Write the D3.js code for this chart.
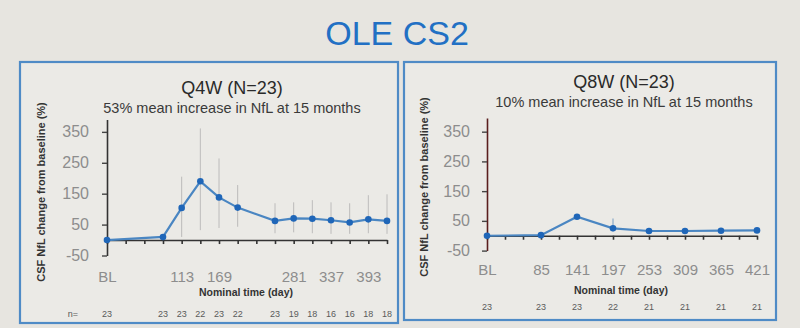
<!DOCTYPE html>
<html><head><meta charset="utf-8">
<script src="https://cdn.jsdelivr.net/npm/d3@7"></script>
<style>
html,body{margin:0;padding:0;background:#e7e5e0;}
svg{display:block;font-family:"Liberation Sans",Arial,sans-serif;}
</style></head>
<body>
<svg id="chart" width="800" height="328"></svg>
<script>
// ---------- data ----------
const chartTitle = "OLE CS2";
const tickDays = [1, 29, 57, 85, 113, 141, 169, 197, 225, 253, 281, 309, 337, 365, 393, 421];
const yTicks = [-50, 50, 150, 250, 350];

const q4wTitle = "Q4W (N=23)";
const q4wSubtitle = "53% mean increase in NfL at 15 months";
const q4wLabelDays = [1, 113, 169, 281, 337, 393];
const q4wDay   = [1, 85, 113, 141, 169, 197, 253, 281, 309, 337, 365, 393, 421];
const q4wMean  = [0, 10, 104, 190, 138, 105, 62, 70, 69, 64, 57, 67, 62];
const q4wUpper = [0, 14, 205, 361, 264, 178, 119, 122, 129, 122, 119, 145, 148];
const q4wLower = [0, 6, 10, 32, 39, 43, 22, 25, 22, 20, 20, 22, 20];
const q4wN     = [23, 23, 23, 22, 23, 22, 23, 19, 18, 16, 16, 18, 18];

const q8wTitle = "Q8W (N=23)";
const q8wSubtitle = "10% mean increase in NfL at 15 months";
const q8wLabelDays = [1, 85, 141, 197, 253, 309, 365, 421];
const q8wDay   = [1, 85, 141, 197, 253, 309, 365, 421];
const q8wMean  = [0, 2, 64, 25, 16, 16, 17, 18];
const q8wUpper = [0, 5, 70, 58, 24, 24, 25, 26];
const q8wLower = [0, 0, 58, 14, 8, 8, 9, 10];
const q8wN     = [23, 23, 23, 22, 21, 21, 21, 21];

const yAxisTitle = "CSF NfL change from baseline (%)";
const xAxisTitle = "Nominal time (day)";

// ---------- drawing ----------
const svg = d3.select("#chart");
svg.append("rect").attr("width", 800).attr("height", 328).attr("fill", "#e7e5e0");

svg.append("text").attr("x", 397).attr("y", 45).attr("text-anchor", "middle")
  .attr("font-size", 34).attr("fill", "#2270c4").text(chartTitle);

function drawPanel(p) {
  const g = svg.append("g");
  g.append("rect").attr("x", p.box[0]).attr("y", p.box[1])
    .attr("width", p.box[2] - p.box[0]).attr("height", p.box[3] - p.box[1])
    .attr("fill", "#ebeae6").attr("stroke", "#4f8bc6").attr("stroke-width", 2.2);

  const x = d3.scaleLinear().domain([1, 421]).range(p.xRange);
  const y = d3.scaleLinear().domain(p.yDomain).range(p.yRange);

  // titles
  g.append("text").attr("x", p.titleX).attr("y", p.titleY).attr("text-anchor", "middle")
    .attr("font-size", 18).attr("fill", "#2a2a2a").text(p.title);
  g.append("text").attr("x", p.titleX).attr("y", p.titleY + 19).attr("text-anchor", "middle")
    .attr("font-size", 14.5).attr("fill", "#3a3a3a").text(p.subtitle);

  // y axis title
  g.append("text").attr("transform", `translate(${p.yTitleX},${p.yTitleY}) rotate(-90)`)
    .attr("text-anchor", "middle").attr("font-size", 11).attr("font-weight", "bold")
    .attr("fill", "#333").text(yAxisTitle);

  // error bars
  const idx = d3.range(p.day.length);
  g.append("g").selectAll("line").data(idx).join("line")
    .attr("x1", i => x(p.day[i])).attr("x2", i => x(p.day[i]))
    .attr("y1", i => y(p.upper[i])).attr("y2", i => y(p.lower[i]))
    .attr("stroke", p.errColor).attr("stroke-width", p.errWidth).attr("stroke-opacity", p.errOpacity);

  // y axis
  const ya = g.append("g").attr("transform", `translate(${p.xRange[0]},0)`)
    .call(d3.axisLeft(y).tickValues(yTicks).tickSize(5).tickSizeOuter(0).tickPadding(p.yPad)
      .tickFormat(d => String(d)));
  ya.select(".domain").attr("stroke", p.yAxisColor).attr("stroke-width", 1.6);
  ya.selectAll(".tick line").attr("stroke", "#444").attr("stroke-width", 1.4);
  ya.selectAll(".tick text").attr("font-size", 16).attr("fill", "#8d8d8d")
    .attr("font-family", "Liberation Sans, Arial, sans-serif");

  // x axis at y = 0
  const xa = g.append("g").attr("transform", `translate(0,${y(0)})`)
    .call(d3.axisBottom(x).tickValues(tickDays).tickSize(4).tickSizeOuter(0).tickPadding(p.xPad)
      .tickFormat(d => p.labelDays.includes(d) ? (d === 1 ? "BL" : String(d)) : ""));
  xa.select(".domain").attr("stroke", "#333").attr("stroke-width", 1.6);
  xa.selectAll(".tick line").attr("stroke", "#333").attr("stroke-width", 1.6);
  xa.selectAll(".tick text").attr("font-size", 15).attr("fill", "#8d8d8d")
    .attr("font-family", "Liberation Sans, Arial, sans-serif");

  // x axis title
  g.append("text").attr("x", (p.xRange[0] + p.xRange[1]) / 2 - 1).attr("y", p.xTitleY)
    .attr("text-anchor", "middle").attr("font-size", 10.5).attr("font-weight", "bold")
    .attr("fill", "#333").text(xAxisTitle);

  // line + markers
  const line = d3.line().x(i => x(p.day[i])).y(i => y(p.mean[i]));
  g.append("path").datum(idx).attr("d", line).attr("fill", "none")
    .attr("stroke", "#4a86c2").attr("stroke-width", 2.2);
  g.append("g").selectAll("circle").data(idx).join("circle")
    .attr("cx", i => x(p.day[i])).attr("cy", i => y(p.mean[i])).attr("r", 3.3)
    .attr("fill", "#1f66b8");

  // n row
  g.append("g").selectAll("text").data(idx).join("text")
    .attr("x", i => x(p.day[i])).attr("y", p.nY).attr("text-anchor", "middle")
    .attr("font-size", 9).attr("fill", "#5a5a5a").text(i => p.n[i]);
  if (p.nLabelX) {
    g.append("text").attr("x", p.nLabelX).attr("y", p.nY).attr("text-anchor", "middle")
      .attr("font-size", 9).attr("fill", "#5a5a5a").text("n=");
  }
}

drawPanel({
  box: [20, 62, 398, 323],
  xRange: [107, 387], yDomain: [-50, 390], yRange: [255.5, 119.5],
  title: q4wTitle, subtitle: q4wSubtitle, titleX: 232, titleY: 94,
  yTitleX: 45, yTitleY: 192, yPad: 13, xPad: 27, xTitleY: 296, nY: 317, nLabelX: 73,
  labelDays: q4wLabelDays, day: q4wDay, mean: q4wMean, upper: q4wUpper, lower: q4wLower, n: q4wN,
  yAxisColor: "#333", errColor: "#a8a8a8", errWidth: 1, errOpacity: 0.7
});

drawPanel({
  box: [404, 62, 776, 320],
  xRange: [487, 757], yDomain: [-50, 396], yRange: [250.6, 118],
  title: q8wTitle, subtitle: q8wSubtitle, titleX: 624, titleY: 88,
  yTitleX: 428, yTitleY: 187, yPad: 12, xPad: 25, xTitleY: 294, nY: 310, nLabelX: null,
  labelDays: q8wLabelDays, day: q8wDay, mean: q8wMean, upper: q8wUpper, lower: q8wLower, n: q8wN,
  yAxisColor: "#5a1e1e", errColor: "#8aa9c8", errWidth: 1.5, errOpacity: 0.8
});
</script>
</body></html>
